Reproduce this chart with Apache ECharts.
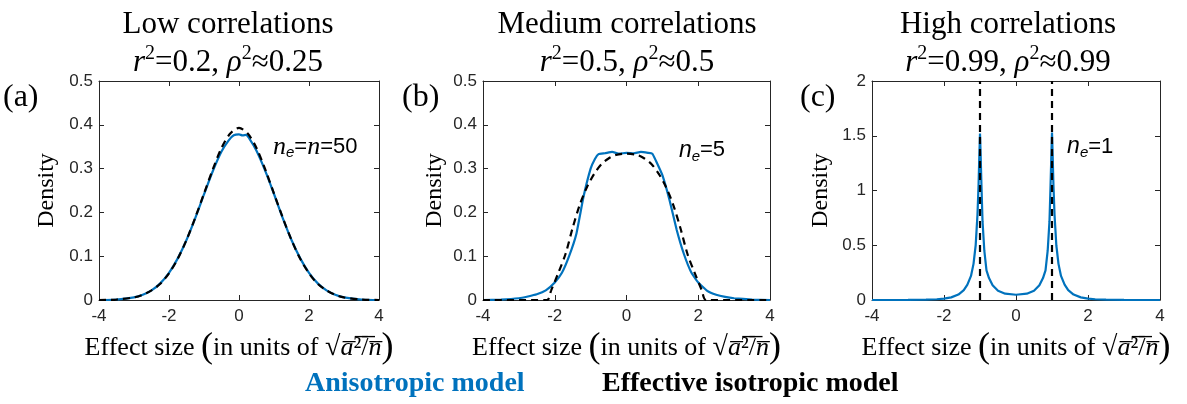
<!DOCTYPE html>
<html><head><meta charset="utf-8">
<script src="https://cdn.jsdelivr.net/npm/echarts@6/dist/echarts.min.js"></script>
<style>html,body{margin:0;padding:0;background:#fff}#c{width:1187px;height:404px}</style>
</head><body><div id="c"></div>
<script>
// ---- data ----
const xTicks = [-4, -2, 0, 2, 4];
const panelTitles = ['Low correlations', 'Medium correlations', 'High correlations'];
const panelStats = ['{i|r}{s|2}=0.2, {i|ρ}{s|2}≈0.25', '{i|r}{s|2}=0.5, {i|ρ}{s|2}≈0.5', '{i|r}{s|2}=0.99, {i|ρ}{s|2}≈0.99'];
const panelLetters = ['(a)', '(b)', '(c)'];
const yMaxes = [0.5, 0.5, 2];
const yIntervals = [0.1, 0.1, 0.5];

// Panel (a) low correlations
const aAnisoX = [-4, -3.5, -3, -2.75, -2.5, -2.25, -2, -1.75, -1.5, -1.25, -1, -0.75, -0.5, -0.3, -0.15, 0, 0.1, 0.2, 0.3, 0.5, 0.75, 1, 1.25, 1.5, 1.75, 2, 2.25, 2.5, 2.75, 3, 3.5, 4];
const aAnisoY = [0, 0.001, 0.006, 0.012, 0.022, 0.038, 0.062, 0.095, 0.137, 0.187, 0.241, 0.294, 0.339, 0.364, 0.376, 0.378, 0.376, 0.377, 0.368, 0.341, 0.295, 0.242, 0.187, 0.137, 0.095, 0.062, 0.038, 0.022, 0.012, 0.006, 0.001, 0];
const aIsoX = [-4, -3.5, -3, -2.75, -2.5, -2.25, -2, -1.75, -1.5, -1.25, -1, -0.75, -0.5, -0.25, 0, 0.25, 0.5, 0.75, 1, 1.25, 1.5, 1.75, 2, 2.25, 2.5, 2.75, 3, 3.5, 4];
const aIsoY = [0, 0.001, 0.006, 0.012, 0.022, 0.037, 0.061, 0.094, 0.137, 0.188, 0.243, 0.298, 0.347, 0.380, 0.393, 0.380, 0.347, 0.298, 0.243, 0.188, 0.137, 0.094, 0.061, 0.037, 0.022, 0.012, 0.006, 0.001, 0];

// Panel (b) medium correlations
const bAnisoX = [-4, -3.5, -3, -2.75, -2.5, -2.25, -2, -1.8, -1.6, -1.4, -1.2, -1.0, -0.88, -0.78, -0.6, -0.4, -0.2, 0, 0.2, 0.4, 0.6, 0.72, 0.82, 1.0, 1.2, 1.4, 1.6, 1.8, 2.0, 2.25, 2.5, 2.75, 3, 3.5, 4];
const bAnisoY = [0, 0.001, 0.004, 0.008, 0.013, 0.022, 0.040, 0.062, 0.100, 0.150, 0.235, 0.300, 0.322, 0.333, 0.335, 0.338, 0.334, 0.336, 0.335, 0.338, 0.336, 0.334, 0.318, 0.285, 0.228, 0.160, 0.105, 0.064, 0.040, 0.021, 0.012, 0.007, 0.004, 0.001, 0];
const bIsoX = [-4, -2.22, -2.1, -1.9, -1.7, -1.5, -1.3, -1.1, -0.9, -0.7, -0.5, -0.3, 0, 0.3, 0.5, 0.7, 0.9, 1.1, 1.3, 1.5, 1.7, 1.9, 2.1, 2.22, 4];
const bIsoY = [0, 0, 0.022, 0.062, 0.105, 0.165, 0.218, 0.258, 0.288, 0.310, 0.323, 0.331, 0.334, 0.331, 0.323, 0.310, 0.288, 0.258, 0.218, 0.165, 0.105, 0.062, 0.022, 0, 0];

// Panel (c) high correlations
const cAnisoX = [-4, -3, -2.5, -2.2, -2.0, -1.8, -1.6, -1.45, -1.35, -1.25, -1.18, -1.12, -1.07, -1.04, -1.02, -1.0, -0.98, -0.96, -0.93, -0.88, -0.82, -0.75, -0.65, -0.5, -0.3, 0, 0.3, 0.5, 0.65, 0.75, 0.82, 0.88, 0.93, 0.96, 0.98, 1.0, 1.02, 1.04, 1.07, 1.12, 1.18, 1.25, 1.35, 1.45, 1.6, 1.8, 2.0, 2.2, 2.5, 3, 4];
const cAnisoY = [0, 0.001, 0.003, 0.007, 0.012, 0.024, 0.05, 0.09, 0.14, 0.22, 0.33, 0.50, 0.78, 1.05, 1.30, 1.52, 1.30, 1.05, 0.72, 0.45, 0.27, 0.20, 0.135, 0.085, 0.058, 0.048, 0.058, 0.085, 0.135, 0.20, 0.27, 0.45, 0.72, 1.05, 1.30, 1.53, 1.30, 1.05, 0.78, 0.50, 0.33, 0.22, 0.14, 0.09, 0.05, 0.024, 0.012, 0.007, 0.003, 0.001, 0];
const cIsoDeltas = [-1, 1];

// annotations (data coords of label left edge)
const annot = [
  {coord: [0.97, 0.35], text: '{n|n}{e|e}{t|=}{n|n}{t|=50}'},
  {coord: [1.46, 0.342], text: '{ns|n}{e|e}{t|=5}'},
  {coord: [1.42, 1.40], text: '{ns|n}{e|e}{t|=1}'}
];
const seriesNames = ['Anisotropic model', 'Effective isotropic model'];

// ---- layout / style ----
const BLUE = '#0072BD';
const AX = '#262626';
const grids = [
  {left: 99, top: 81, width: 280, height: 219},
  {left: 483, top: 81, width: 287, height: 219},
  {left: 872, top: 81, width: 288, height: 219}
];
const titleCenters = [228, 627, 1008];
const letterLeft = [3, 402, 800];
const densityGap = [40, 36, 39];
const serif = 'Liberation Serif';
const sans = 'Liberation Sans';

const zip = (xs, ys) => xs.map((x, i) => [x, ys[i]]);

const xAxes = [], yAxes = [];
grids.forEach((g, i) => {
  const common = {gridIndex: i, type: 'value', min: -4, max: 4, interval: 2,
    axisLine: {show: true, onZero: false, lineStyle: {color: AX, width: 1}},
    axisTick: {show: true, inside: true, length: 5, lineStyle: {color: AX}},
    splitLine: {show: false}};
  xAxes.push(Object.assign({}, common, {position: 'bottom',
    axisLabel: {show: true, fontFamily: sans, fontSize: 17, color: AX, margin: 8},
    name: 'Effect size {p|(}in units of {r|√}{m|a̅}²̅/̅{m|n̅}{p|)}',
    nameLocation: 'middle', nameGap: 22,
    nameTextStyle: {fontFamily: serif, fontSize: 26, color: '#000',
      rich: {p: {fontFamily: serif, fontSize: 36, color: '#000'},
             r: {fontFamily: serif, fontSize: 28, color: '#000'},
             m: {fontFamily: serif, fontStyle: 'italic', fontSize: 26, color: '#000'}}}}));
  xAxes.push(Object.assign({}, common, {position: 'top', axisLabel: {show: false}}));
  const ycommon = {gridIndex: i, type: 'value', min: 0, max: yMaxes[i], interval: yIntervals[i],
    axisLine: {show: true, onZero: false, lineStyle: {color: AX, width: 1}},
    axisTick: {show: true, inside: true, length: 5, lineStyle: {color: AX}},
    splitLine: {show: false}};
  yAxes.push(Object.assign({}, ycommon, {position: 'left',
    axisLabel: {show: true, fontFamily: sans, fontSize: 17, color: AX, margin: 6},
    name: 'Density', nameLocation: 'middle', nameGap: densityGap[i],
    nameTextStyle: {fontFamily: serif, fontSize: 24, color: '#000'}}));
  yAxes.push(Object.assign({}, ycommon, {position: 'right', axisLabel: {show: false}}));
});

const annotRich = {
  n: {fontFamily: serif, fontStyle: 'italic', fontSize: 26, color: '#000', lineHeight: 28},
  ns: {fontFamily: sans, fontStyle: 'italic', fontSize: 23, color: '#000', lineHeight: 28},
  e: {fontFamily: sans, fontStyle: 'italic', fontSize: 15, color: '#000', verticalAlign: 'bottom', lineHeight: 28},
  t: {fontFamily: sans, fontSize: 22, color: '#000', lineHeight: 28}
};

const anisoData = [zip(aAnisoX, aAnisoY), zip(bAnisoX, bAnisoY), zip(cAnisoX, cAnisoY)];
const isoData = [zip(aIsoX, aIsoY), zip(bIsoX, bIsoY), null];
const smoothing = [0.3, 0.12, false];

const series = [];
grids.forEach((g, i) => {
  series.push({
    name: seriesNames[0], type: 'line', xAxisIndex: 2 * i, yAxisIndex: 2 * i,
    data: anisoData[i], symbol: 'none', smooth: smoothing[i],
    lineStyle: {color: BLUE, width: 2.2}, itemStyle: {color: BLUE}, z: 2,
    markPoint: {symbol: 'circle', symbolSize: 0, silent: true,
      data: [{coord: annot[i].coord}],
      label: {show: true, position: 'right', distance: 0, formatter: annot[i].text, rich: annotRich}}
  });
  if (isoData[i]) {
    series.push({
      name: seriesNames[1], type: 'line', xAxisIndex: 2 * i, yAxisIndex: 2 * i,
      data: isoData[i], symbol: 'none', smooth: 0.3,
      lineStyle: {color: '#000', width: 2.2, type: [7, 5]}, itemStyle: {color: '#000'}, z: 3
    });
  } else {
    series.push({
      name: seriesNames[1], type: 'line', xAxisIndex: 2 * i, yAxisIndex: 2 * i,
      data: [], symbol: 'none', itemStyle: {color: '#000'}, z: 3,
      markLine: {silent: true, symbol: ['none', 'none'], label: {show: false},
        lineStyle: {color: '#000', width: 2.2, type: [7, 5]},
        data: cIsoDeltas.map(v => ({xAxis: v}))}
    });
  }
});

const titles = [];
grids.forEach((g, i) => {
  titles.push({text: panelTitles[i] + '\n' + panelStats[i], left: titleCenters[i], top: 6,
    textAlign: 'center', padding: 0,
    textStyle: {fontFamily: serif, fontSize: 31, fontWeight: 'normal', color: '#000', lineHeight: 38,
      rich: {i: {fontFamily: serif, fontStyle: 'italic', fontSize: 31, color: '#000', lineHeight: 38},
             s: {fontFamily: serif, fontSize: 20, color: '#000', verticalAlign: 'top', lineHeight: 30}}}});
  titles.push({text: panelLetters[i], left: letterLeft[i], top: 82, padding: 0,
    textStyle: {fontFamily: serif, fontSize: 32, fontWeight: 'normal', color: '#000'}});
});

const legendCommon = {top: 370, padding: 0, itemWidth: 0, itemHeight: 0, itemGap: 0,
  selectedMode: false, icon: 'rect', itemStyle: {opacity: 0}, lineStyle: {opacity: 0},
  textStyle: {fontFamily: serif, fontWeight: 'bold', fontSize: 28}};

const chart = echarts.init(document.getElementById('c'), null, {renderer: 'canvas'});
chart.setOption({
  animation: false,
  backgroundColor: '#fff',
  title: titles,
  legend: [
    Object.assign({}, legendCommon, {left: 300, data: [{name: seriesNames[0], textStyle: {color: BLUE}}]}),
    Object.assign({}, legendCommon, {left: 597, data: [{name: seriesNames[1], textStyle: {color: '#000'}}]})
  ],
  grid: grids,
  xAxis: xAxes,
  yAxis: yAxes,
  series: series
});
</script></body></html>
